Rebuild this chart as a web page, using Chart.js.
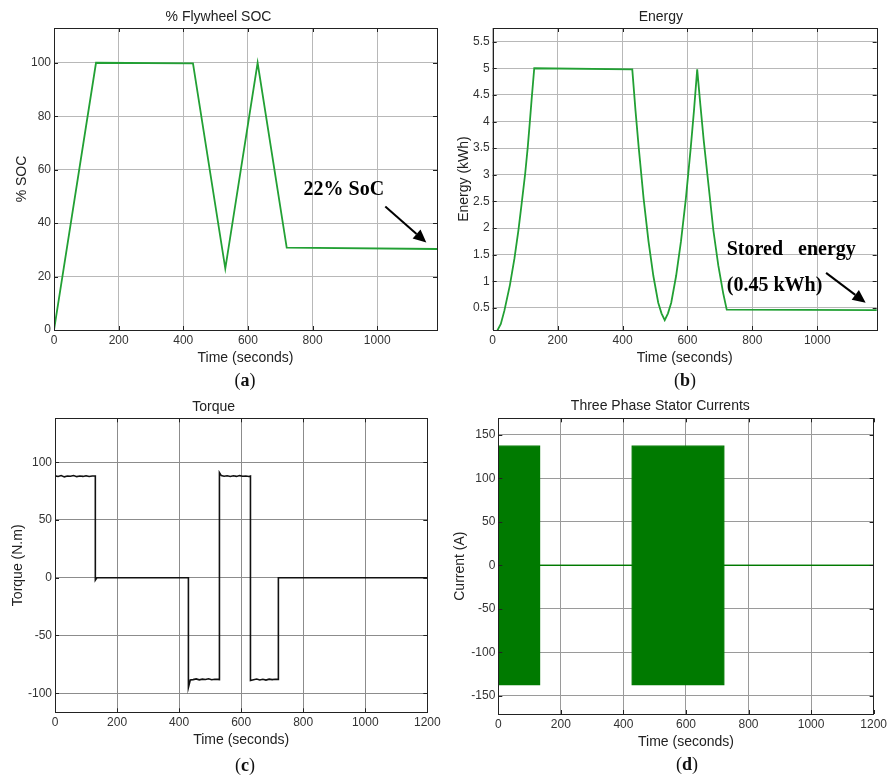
<!DOCTYPE html>
<html><head><meta charset="utf-8">
<script src="https://cdn.jsdelivr.net/npm/chart.js@4"></script>
<style>
body{margin:0;background:#fff;width:890px;height:781px;position:relative;overflow:hidden}
canvas{position:absolute}
.lab{position:absolute;font-family:"Liberation Serif","Times New Roman",serif;font-size:18px;color:#111;transform:translate(-50%,-50%);white-space:nowrap}
</style></head><body>
<canvas id="ca" width="445" height="390" style="left:0;top:0"></canvas>
<canvas id="cb" width="445" height="390" style="left:445px;top:0"></canvas>
<canvas id="cc" width="445" height="391" style="left:0;top:390px"></canvas>
<canvas id="cd" width="445" height="391" style="left:445px;top:390px"></canvas>
<div class="lab" style="left:245px;top:380px">(<b>a</b>)</div>
<div class="lab" style="left:685px;top:380px">(<b>b</b>)</div>
<div class="lab" style="left:245px;top:765px">(<b>c</b>)</div>
<div class="lab" style="left:687px;top:764px">(<b>d</b>)</div>
<script>
// ---------- data ----------
const timeTicksAB = [0,200,400,600,800,1000];
const timeTicksCD = [0,200,400,600,800,1000,1200];

const socTime  = [0,130,430,530,630,720,1185];
const socValue = [0,100,99.8,23,100,30.8,30.3];
const socTicks = [0,20,40,60,80,100];

const energyTime  = [0,12,25,36,53,67,79,89,100,108,114,120,128,
  430,440,450,465,480,495,510,520,530,
  540,550,565,580,595,610,620,630,
  640,650,665,680,695,710,721,1185];
const energyValue = [0,0.05,0.2,0.45,0.93,1.43,1.95,2.45,3.02,3.52,3.96,4.42,5.0,
  4.98,4.2,3.5,2.55,1.75,1.1,0.6,0.4,0.27,
  0.4,0.6,1.1,1.75,2.55,3.5,4.2,4.98,
  4.3,3.65,2.8,1.95,1.3,0.78,0.47,0.46];
const energyTicks = [0.5,1,1.5,2,2.5,3,3.5,4,4.5,5,5.5];

const torqueTime  = [0,10,20,30,40,50,60,70,80,90,100,110,120,130,
  130,135,430,430,436,
  445,455,465,475,485,495,505,515,525,
  530,530,536,
  545,555,565,575,585,595,605,615,625,
  630,630,
  640,650,660,670,680,690,700,710,
  720,720,1200];
const torqueValue = [88.2,87.6,88.4,87.3,88.1,87.8,88.5,87.5,88.0,87.7,88.3,87.6,88.1,88.0,
  -2,0,0,-95,-88.5,
  -88.2,-87.6,-88.4,-87.8,-88.1,-87.5,-88.3,-87.9,-88.0,
  -88.2,91,88.4,
  87.9,88.3,87.6,88.2,87.7,88.4,87.8,88.1,87.6,
  88.0,-89,
  -88.3,-87.7,-88.5,-87.9,-88.6,-87.8,-88.2,-87.9,
  -88,0,0];
const torqueTicks = [-100,-50,0,50,100];

const currentTime  = [0,132,132,428,428,721,721,1200];
const currentUpper = [137,137,0,0,137,137,0,0];
const currentLower = [-137,-137,0,0,-137,-137,0,0];
const currentTicks = [-150,-100,-50,0,50,100,150];

// ---------- helpers ----------
const SANS = '"Liberation Sans", Arial, Helvetica, sans-serif';
const SERIF = '"Liberation Serif", "Times New Roman", serif';
const pts = (xs, ys) => xs.map((x,i)=>({x:x, y:ys[i]}));

const framePlugin = {
  id:'frame',
  afterDatasetsDraw(chart){
    const {ctx, chartArea:a, scales} = chart;
    ctx.save();
    ctx.strokeStyle = '#222'; ctx.lineWidth = 1;
    ctx.strokeRect(Math.round(a.left)+0.5, Math.round(a.top)+0.5, Math.round(a.right-a.left), Math.round(a.bottom-a.top));
    const L = 4;
    ctx.beginPath();
    scales.x.ticks.forEach(t=>{
      const px = Math.round(scales.x.getPixelForValue(t.value))+0.5;
      ctx.moveTo(px,a.bottom); ctx.lineTo(px,a.bottom-L);
      ctx.moveTo(px,a.top); ctx.lineTo(px,a.top+L);
    });
    scales.y.ticks.forEach(t=>{
      const py = Math.round(scales.y.getPixelForValue(t.value))+0.5;
      ctx.moveTo(a.left,py); ctx.lineTo(a.left+L,py);
      ctx.moveTo(a.right,py); ctx.lineTo(a.right-L,py);
    });
    ctx.stroke();
    ctx.restore();
  },
  afterDraw(chart){
    const o = chart.options.plugins.notes;
    if(!o) return;
    const {ctx, scales} = chart;
    ctx.save();
    ctx.fillStyle = '#000'; ctx.strokeStyle = '#000';
    ctx.font = 'bold 20px ' + SERIF;
    ctx.textBaseline = 'middle'; ctx.textAlign = 'left';
    (o.texts||[]).forEach(t=>{
      ctx.fillText(t.text, scales.x.getPixelForValue(t.x), scales.y.getPixelForValue(t.y));
    });
    (o.arrows||[]).forEach(r=>{
      const x1 = scales.x.getPixelForValue(r.x1), y1 = scales.y.getPixelForValue(r.y1);
      const x2 = scales.x.getPixelForValue(r.x2), y2 = scales.y.getPixelForValue(r.y2);
      const ang = Math.atan2(y2-y1, x2-x1), hl = 13, hw = 6;
      const bx = x2 - hl*Math.cos(ang), by = y2 - hl*Math.sin(ang);
      ctx.lineWidth = 2;
      ctx.beginPath(); ctx.moveTo(x1,y1); ctx.lineTo(bx,by); ctx.stroke();
      ctx.beginPath();
      ctx.moveTo(x2,y2);
      ctx.lineTo(bx + hw*Math.sin(ang), by - hw*Math.cos(ang));
      ctx.lineTo(bx - hw*Math.sin(ang), by + hw*Math.cos(ang));
      ctx.closePath(); ctx.fill();
    });
    ctx.restore();
  }
};

function build(id, p){
  const tickSet = arr => (scale => { scale.ticks = arr.map(v=>({value:v})); });
  const fmt = v => String(v);
  return new Chart(document.getElementById(id), {
    type:'line',
    data:{datasets:p.datasets},
    plugins:[framePlugin],
    options:{
      responsive:false, animation:false, devicePixelRatio:1,
      layout:{padding:{left:0, right:p.padRight, top:0, bottom:0}},
      elements:{point:{radius:0}, line:{tension:0}},
      plugins:{
        legend:{display:false}, tooltip:{enabled:false},
        title:{display:true, text:p.title, color:'#222',
          font:{family:SANS, size:14, weight:'normal', lineHeight:1.2},
          padding:{top:p.titleTop, bottom:p.titleBottom}},
        notes:p.notes
      },
      scales:{
        x:{type:'linear', min:p.xmin, max:p.xmax,
          afterBuildTicks:tickSet(p.xticks),
          afterFit:s=>{s.height = p.xHeight;},
          grid:{color:p.gridColor, lineWidth:1, drawTicks:false},
          border:{display:false},
          ticks:{color:'#333', font:{family:SANS, size:12}, padding:3, maxRotation:0, autoSkip:false, callback:fmt},
          title:{display:true, text:'Time (seconds)', color:'#222',
            font:{family:SANS, size:14, lineHeight:1.2}, padding:{top:0, bottom:p.xTitlePad}}
        },
        y:{type:'linear', min:p.ymin, max:p.ymax,
          afterBuildTicks:tickSet(p.yticks),
          afterFit:s=>{s.width = p.yWidth;},
          grid:{color:p.gridColor, lineWidth:1, drawTicks:false},
          border:{display:false},
          ticks:{color:'#333', font:{family:SANS, size:12}, padding:3, autoSkip:false, callback:fmt},
          title:{display:true, text:p.ytitle, color:'#222',
            font:{family:SANS, size:14, lineHeight:1.2}, padding:{top:p.yTitlePad, bottom:0}}
        }
      }
    }
  });
}

const GREEN = 'rgb(34,160,52)';
const DKGREEN = 'rgb(0,122,0)';

build('ca', {
  title:'% Flywheel SOC', ytitle:'% SOC',
  datasets:[{data:pts(socTime, socValue), borderColor:GREEN, borderWidth:1.8, fill:false}],
  xmin:0, xmax:1185, ymin:0, ymax:113, xticks:timeTicksAB, yticks:socTicks,
  padRight:8, titleTop:8.3, titleBottom:2.9, xHeight:60, xTitlePad:23.6, yWidth:54, yTitlePad:13.3,
  gridColor:'#b8b8b8',
  notes:{texts:[{text:'22% SoC', x:772, y:52.4}], arrows:[{x1:1025, y1:46.2, x2:1152, y2:32.7}]}
});

build('cb', {
  title:'Energy', ytitle:'Energy (kWh)',
  datasets:[{data:pts(energyTime, energyValue), borderColor:GREEN, borderWidth:1.8, fill:false}],
  xmin:0, xmax:1183, ymin:0.087, ymax:5.756, xticks:timeTicksAB, yticks:energyTicks,
  padRight:13.3, titleTop:8.3, titleBottom:2.9, xHeight:60, xTitlePad:23.6, yWidth:47.7, yTitlePad:10.3,
  gridColor:'#b8b8b8',
  notes:{texts:[{text:'Stored   energy', x:721, y:1.60},{text:'(0.45 kWh)', x:721, y:0.91}],
         arrows:[{x1:1027, y1:1.16, x2:1149, y2:0.6}]}
});

build('cc', {
  title:'Torque', ytitle:'Torque (N.m)',
  datasets:[{data:pts(torqueTime, torqueValue), borderColor:'#111', borderWidth:1.6, fill:false}],
  xmin:0, xmax:1200, ymin:-116.5, ymax:138, xticks:timeTicksCD, yticks:torqueTicks,
  padRight:17.7, titleTop:8.3, titleBottom:3.2, xHeight:68.7, xTitlePad:32.6, yWidth:55, yTitlePad:9.9,
  gridColor:'#8c8c8c'
});

build('cd', {
  title:'Three Phase Stator Currents', ytitle:'Current (A)',
  datasets:[
    {data:pts(currentTime, currentUpper), borderColor:DKGREEN, borderWidth:1.2, fill:false},
    {data:pts(currentTime, currentLower), borderColor:DKGREEN, borderWidth:1.2, fill:'-1', backgroundColor:DKGREEN}
  ],
  xmin:0, xmax:1200, ymin:-170.7, ymax:169, xticks:timeTicksCD, yticks:currentTicks,
  padRight:14.3, titleTop:7.3, titleBottom:4.2, xHeight:67, xTitlePad:30.9, yWidth:53.3, yTitlePad:6.6,
  gridColor:'#9a9a9a'
});
</script>
</body></html>
